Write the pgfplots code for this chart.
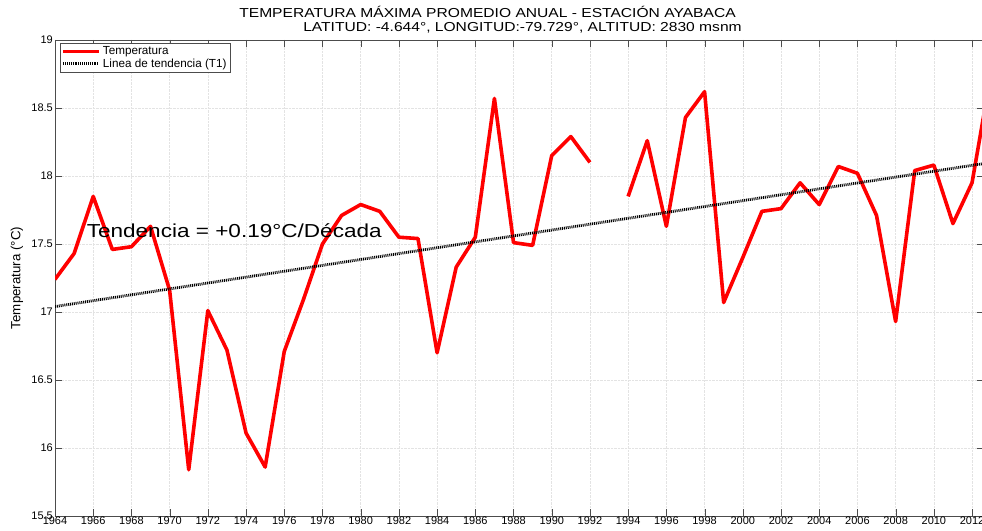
\documentclass[border=0pt]{standalone}
\usepackage{pgfplots}
\pgfplotsset{compat=1.18}
\usepackage{fontspec}
\setmainfont{Liberation Sans}
\begin{document}
\begin{tikzpicture}[x=1pt,y=1pt]
\path[use as bounding box] (0,0) rectangle (982,530);
\clip (0,0) rectangle (982,530);
\begin{axis}[
  at={(55pt,14pt)}, anchor=south west,
  scale only axis, width=928.5pt, height=476pt,
  xmin=1964, xmax=2012.6, ymin=15.5, ymax=19,
  xtick={1964,1966,...,2012},
  ytick={15.5,16,16.5,17,17.5,18,18.5,19},
  /pgf/number format/assume math mode=true,
  xticklabel style={/pgf/number format/set thousands separator={}, font=\fontsize{11}{12}\selectfont, inner sep=1pt},
  yticklabel style={font=\fontsize{11}{12}\selectfont, inner sep=2pt},
  tick align=inside, major tick length=7pt,
  axis line style={gray!60!black}, tick style={gray!60!black},
  ymajorgrids, xmajorgrids,
  grid style={densely dotted, gray!22, line width=0.6pt},
  ylabel={Temperatura (°C)},
  ylabel style={at={(axis description cs:-0.041,0.5)}, anchor=center, font=\fontsize{13.3}{14}\selectfont},
  unbounded coords=jump,
  legend style={at={(axis description cs:0.005,0.994)}, anchor=north west, font=\fontsize{11.7}{12}\selectfont, inner sep=1.5pt, row sep=-1.5pt, draw=gray!60!black, cells={anchor=west}},
  legend image code/.code={\draw[#1] (0pt,0pt) -- (36pt,0pt);},
]
\addplot[red, line width=3.6pt, line join=round] coordinates {
(1964,17.24) (1965,17.43) (1966,17.85) (1967,17.46) (1968,17.48) (1969,17.63)
(1970,17.16) (1971,15.84) (1972,17.01) (1973,16.72) (1974,16.11) (1975,15.86)
(1976,16.71) (1977,17.09) (1978,17.50) (1979,17.71) (1980,17.79) (1981,17.74)
(1982,17.55) (1983,17.54) (1984,16.70) (1985,17.33) (1986,17.55) (1987,18.57)
(1988,17.51) (1989,17.49) (1990,18.15) (1991,18.29) (1992,18.10) (1993,nan)
(1994,17.85) (1995,18.26) (1996,17.63) (1997,18.43) (1998,18.62) (1999,17.07)
(2000,17.40) (2001,17.74) (2002,17.76) (2003,17.95) (2004,17.79) (2005,18.07)
(2006,18.02) (2007,17.71) (2008,16.93) (2009,18.04) (2010,18.08) (2011,17.65)
(2012,17.95) (2013,18.76)
};
\addlegendentry{Temperatura}
\addplot[black, line width=2.8pt, dash pattern=on 1pt off 0.9pt] coordinates {
(1964,17.04) (2013,18.10)
};
\addlegendentry{Linea de tendencia (T1)}
\node[anchor=west, font=\fontsize{18.8}{20}\selectfont, xscale=1.2, inner sep=0pt] at (axis cs:1965.65,17.60) {Tendencia = +0.19°C/Década};
\end{axis}
\node[anchor=base, font=\fontsize{13}{14}\selectfont, xscale=1.2] at (487.5,512) {TEMPERATURA MÁXIMA PROMEDIO ANUAL - ESTACIÓN AYABACA};
\node[anchor=base, font=\fontsize{13}{14}\selectfont, xscale=1.2] at (522.5,498) {LATITUD: -4.644°, LONGITUD:-79.729°, ALTITUD: 2830 msnm};
\end{tikzpicture}
\end{document}
